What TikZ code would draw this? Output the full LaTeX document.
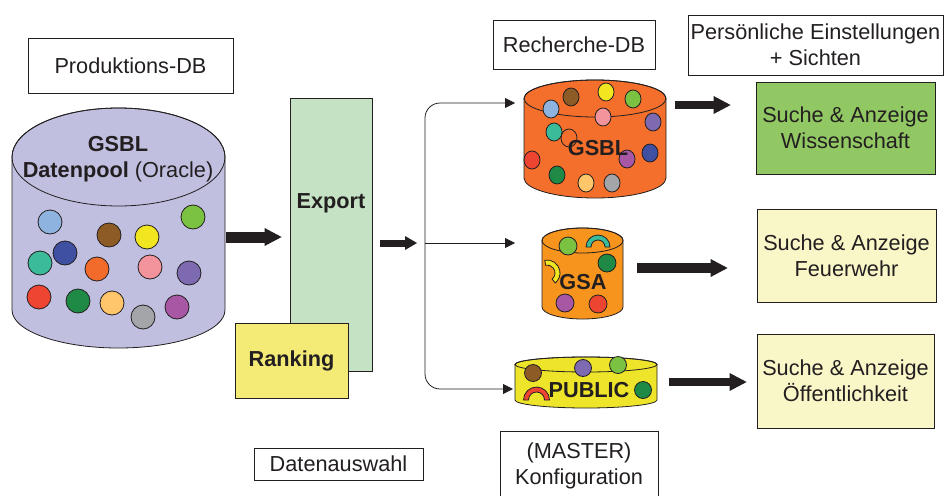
\documentclass[tikz,border=0pt]{standalone}
\usepackage{fontspec}
\setmainfont{Liberation Sans}
\usetikzlibrary{arrows.meta}

\definecolor{ink}{HTML}{231F20}
\definecolor{poolfill}{HTML}{C1BFE0}
\definecolor{exportfill}{HTML}{C5E2C4}
\definecolor{rankfill}{HTML}{F3EB76}
\definecolor{gsblfill}{HTML}{F36F2B}
\definecolor{gsafill}{HTML}{F7941D}
\definecolor{pubfill}{HTML}{EEE52A}
\definecolor{wissfill}{HTML}{92C863}
\definecolor{palefill}{HTML}{F9F6C8}
\definecolor{cLightBlue}{HTML}{8EB3DE}
\definecolor{cBrown}{HTML}{8D5B26}
\definecolor{cYellow}{HTML}{F1E620}
\definecolor{cGreen}{HTML}{7CC242}
\definecolor{cTeal}{HTML}{3BBB9A}
\definecolor{cNavy}{HTML}{3F4FA1}
\definecolor{cOrange}{HTML}{F26B2A}
\definecolor{cPink}{HTML}{F3939B}
\definecolor{cPurple}{HTML}{7E6AB0}
\definecolor{cRed}{HTML}{EE4532}
\definecolor{cDkGreen}{HTML}{1F8A45}
\definecolor{cPeach}{HTML}{FFC66B}
\definecolor{cGray}{HTML}{A3A5A8}
\definecolor{cMagenta}{HTML}{A857A4}

% cx, y top, y bottom, rx, ry top, ry bottom, fill
\newcommand\dbcyl[7]{%
  \filldraw[fill=#7, line width=0.8pt] (#1-#4,#2) -- (#1-#4,#3)
    arc[start angle=180, end angle=0, x radius=#4, y radius=#6]
    -- (#1+#4,#2) arc[start angle=0, end angle=-180, x radius=#4, y radius=#5] -- cycle;
  \draw[line width=0.8pt] (#1,#2) ellipse[x radius=#4, y radius=#5];}
% cx, cy, r in, r out, start, end, fill
\newcommand\ringpart[7]{%
  \filldraw[fill=#7, dot] ({#1+#4*cos(#5)},{#2+#4*sin(#5)}) arc[start angle=#5, end angle=#6, radius=#4]
    -- ({#1+#3*cos(#6)},{#2+#3*sin(#6)}) arc[start angle=#6, end angle=#5, radius=#3] -- cycle;}

\begin{document}
\begin{tikzpicture}[x=1pt, y=-1pt, color=ink, font=\fontsize{21.7}{26}\selectfont,
    box/.style={draw=ink, line width=0.8pt, fill=white, align=center, inner sep=2pt},
    dot/.style={draw=ink, line width=0.8pt},
    fatarrow/.style={line width=#1, -{Triangle[length=17pt, width=18pt, line width=0pt]}},
    thinarrow/.style={line width=0.8pt}]
  \useasboundingbox (0,0) rectangle (944,495);

  \node[box, minimum width=205pt, minimum height=55pt] (prodlbl) at (130.5,65.5) {Produktions-DB};
  \dbcyl{118.5}{157}{310}{106.5}{49}{38}{poolfill}
  \foreach \x/\y/\c in {50/222/cLightBlue, 109/235/cBrown, 147/237/cYellow, 193/217/cGreen,
      40/263/cTeal, 65/253/cNavy, 97/269/cOrange, 150/267/cPink, 189/273/cPurple,
      39/297/cRed, 78/301/cDkGreen, 112/303/cPeach, 143/317/cGray, 177/307/cMagenta}
    \filldraw[fill=\c, dot] (\x,\y) circle[radius=12];
  \node[align=center] (pooltxt) at (118,159) {\textbf{GSBL}\\\textbf{Datenpool} (Oracle)};

  \node[box, fill=exportfill, minimum width=82pt, minimum height=273pt] (export) at (331,234.5) {};
  \node (exporttxt) at ([yshift=31.5pt]export.center) {\textbf{Export}};
  \node[box, fill=rankfill, minimum width=113pt, minimum height=75pt] (ranking) at (291.5,360.5) {\textbf{Ranking}};
  \node[box, minimum width=169pt, minimum height=32pt] (auswahl) at (338.5,464) {Datenauswahl};

  \node[box, minimum width=162pt, minimum height=49pt] (recherche) at (574,44.5) {Recherche-DB};
  \node[box, minimum width=158pt, minimum height=70pt] (master) at (579,466) {(MASTER)\\Konfiguration};

  \dbcyl{595}{98.5}{178}{71}{18.5}{20}{gsblfill}
  \foreach \x/\y/\c in {571/97/cBrown, 606/92/cYellow, 633/99/cGreen, 551/109/cLightBlue,
      603/117/cPink, 653/122/cPurple, 554/132/cTeal, 650/153/cNavy, 532/160/cRed,
      627/159/cMagenta, 557/175/cDkGreen, 586/183/cPeach, 612/183/cGray}
    \filldraw[fill=\c, dot] (\x,\y) ellipse[x radius=8, y radius=9];
  \draw[dot] (569,138) ellipse[x radius=8, y radius=9];
  \node (gsbltxt) at (598,148) {\textbf{GSBL}};

  \dbcyl{582.5}{240.5}{307}{40.5}{12.5}{12}{gsafill}
  \foreach \x/\y/\c in {568/246/cGreen, 607/263/cDkGreen, 565/303/cMagenta, 598/304/cRed}
    \filldraw[fill=\c, dot] (\x,\y) circle[radius=9];
  \ringpart{598}{247}{7}{12}{0}{-180}{cTeal}
  \ringpart{547}{273}{8}{13}{-100}{50}{cYellow}
  \node (gsatxt) at (583,282) {\textbf{GSA}};

  \dbcyl{586}{364.5}{400}{71}{7.5}{8}{pubfill}
  \foreach \x/\y/\c in {533/373/cBrown, 583/368/cPurple, 618/365/cGreen, 643/390/cDkGreen}
    \filldraw[fill=\c, dot] (\x,\y) circle[radius=8.5];
  \ringpart{536.5}{400}{8}{13}{0}{-180}{cRed}
  \node (pubtxt) at (589,390) {\textbf{PUBLIC}};

  \node[box, minimum width=255pt, minimum height=60pt] (sichten) at (815.5,45) {Persönliche Einstellungen\\+ Sichten};
  \node[box, fill=wissfill, minimum width=179pt, minimum height=92pt] (wiss) at (845.5,128) {Suche \& Anzeige\\Wissenschaft};
  \node[box, fill=palefill, minimum width=179pt, minimum height=93pt] (feuer) at (846.5,255.5) {Suche \& Anzeige\\Feuerwehr};
  \node[box, fill=palefill, minimum width=177pt, minimum height=94pt] (oeff) at (845.5,381) {Suche \& Anzeige\\Öffentlichkeit};

  \coordinate (pool-out) at (226,237);
  \coordinate (split) at (425,243);
  \coordinate (gsbl-in) at (515,103);
  \coordinate (gsa-in) at (515,243);
  \coordinate (pub-in) at (513,389);
  \coordinate (gsbl-out) at (675,105);
  \coordinate (gsa-out) at (637,268);
  \coordinate (pub-out) at (669,382);

  \draw[fatarrow=11pt, shorten >=8pt] (pool-out) -- (pool-out -| export.west);
  \draw[line width=7pt, -{Triangle[length=12pt, width=14pt, line width=0pt]}, shorten <=8pt, shorten >=8pt] (export.east |- split) -- (split);
  \draw[thinarrow, -{Triangle[length=10pt, width=10pt]}] (split) -- (gsa-in);
  \draw[thinarrow, {Triangle[length=10pt, width=10pt]}-{Triangle[length=10pt, width=10pt]}, rounded corners=15pt] (gsbl-in) -| (split) |- (pub-in);
  \draw[fatarrow=8pt, shorten >=25pt] (gsbl-out) -- (gsbl-out -| wiss.west);
  \draw[fatarrow=10pt, shorten >=29pt] (gsa-out) -- (gsa-out -| feuer.west);
  \draw[fatarrow=8pt, shorten >=10pt] (pub-out) -- (pub-out -| oeff.west);
\end{tikzpicture}
\end{document}
